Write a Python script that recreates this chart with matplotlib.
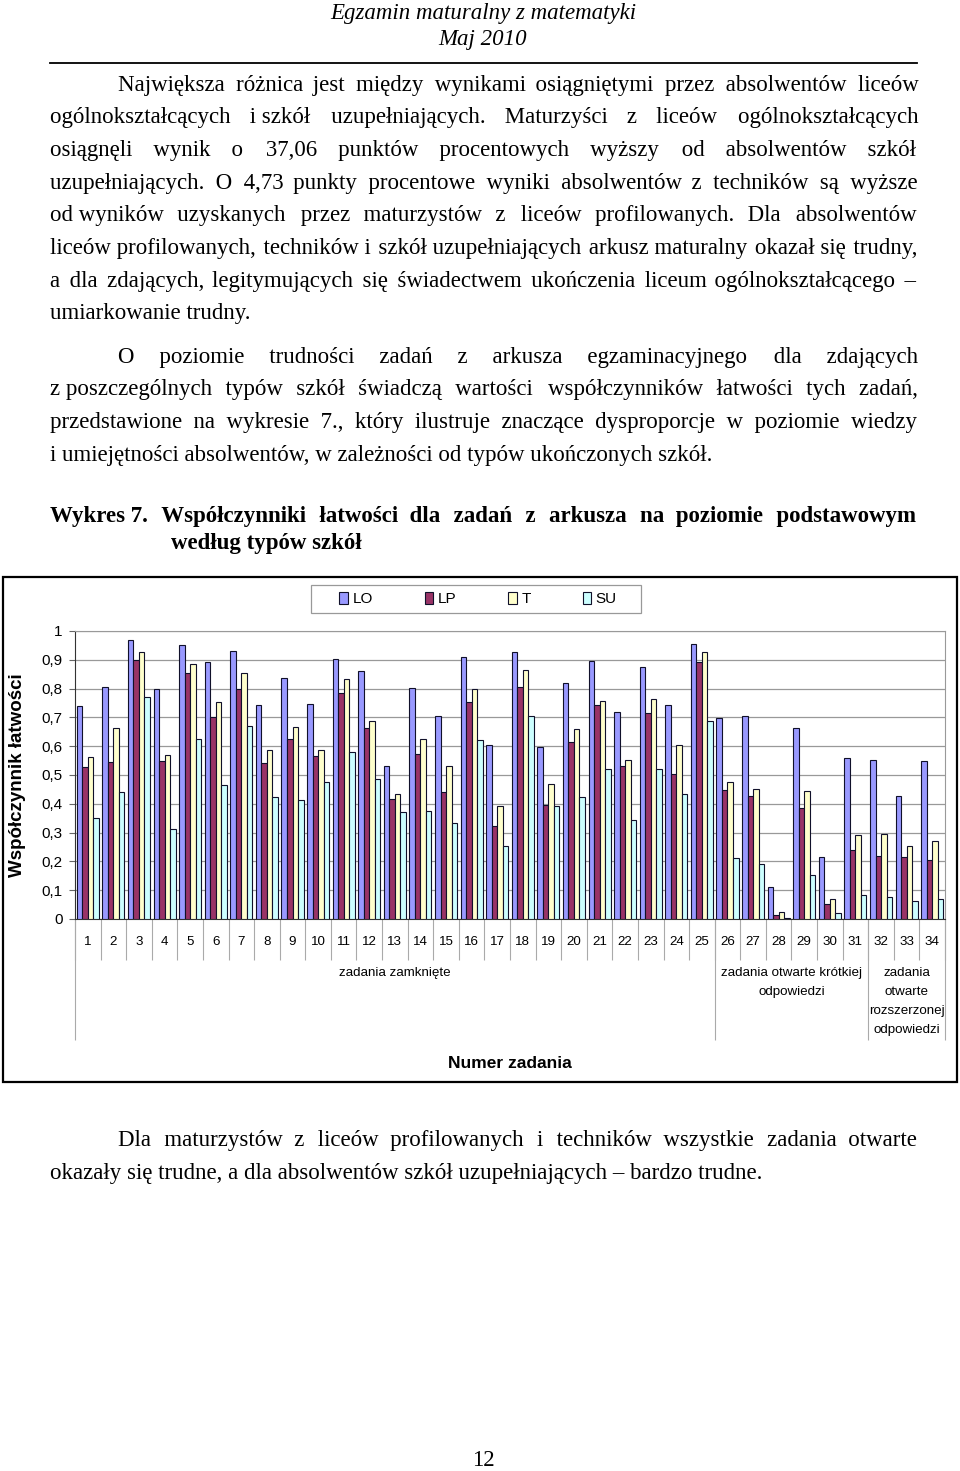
import numpy as np
import matplotlib.pyplot as plt
from matplotlib.patches import Rectangle
from matplotlib.lines import Line2D
from matplotlib.font_manager import FontProperties
from matplotlib.transforms import blended_transform_factory

W, H = 960, 1471

# --- chart data ---
tasks = [str(i) for i in range(1, 35)]
lo = [0.74, 0.807, 0.968, 0.799, 0.951, 0.891, 0.929, 0.743, 0.838, 0.747,
      0.904, 0.861, 0.531, 0.802, 0.705, 0.909, 0.603, 0.928, 0.598, 0.819,
      0.896, 0.718, 0.874, 0.743, 0.955, 0.697, 0.705, 0.11, 0.663, 0.215,
      0.558, 0.553, 0.427, 0.549]
lp = [0.528, 0.545, 0.899, 0.55, 0.854, 0.701, 0.799, 0.54, 0.626, 0.566,
      0.786, 0.664, 0.418, 0.574, 0.442, 0.752, 0.322, 0.807, 0.397, 0.616,
      0.743, 0.531, 0.714, 0.502, 0.891, 0.448, 0.427, 0.014, 0.384, 0.051,
      0.238, 0.22, 0.215, 0.204]
t = [0.563, 0.664, 0.926, 0.571, 0.884, 0.753, 0.854, 0.588, 0.668, 0.587,
     0.832, 0.689, 0.435, 0.626, 0.531, 0.799, 0.392, 0.866, 0.469, 0.66,
     0.756, 0.553, 0.765, 0.603, 0.928, 0.477, 0.451, 0.025, 0.443, 0.068,
     0.292, 0.296, 0.253, 0.271]
su = [0.35, 0.44, 0.77, 0.314, 0.626, 0.466, 0.669, 0.422, 0.413, 0.477,
      0.579, 0.485, 0.372, 0.376, 0.334, 0.62, 0.253, 0.705, 0.392, 0.422,
      0.52, 0.343, 0.52, 0.435, 0.689, 0.211, 0.19, 0.005, 0.152, 0.021,
      0.084, 0.076, 0.064, 0.068]
series_names = ['LO', 'LP', 'T', 'SU']
colors = ['#9999FF', '#993366', '#FFFFCC', '#CCFFFF']
ytick_vals = [0, 0.1, 0.2, 0.3, 0.4, 0.5, 0.6, 0.7, 0.8, 0.9, 1]
ytick_labels = ['0', '0,1', '0,2', '0,3', '0,4', '0,5', '0,6', '0,7', '0,8', '0,9', '1']
group_sizes = [25, 6, 3]
group_names = ['zadania zamknięte',
               'zadania otwarte krótkiej\nodpowiedzi',
               'zadania\notwarte\nrozszerzonej\nodpowiedzi']

# --- page text ---
header = ['Egzamin maturalny z matematyki', 'Maj 2010']
para1 = [
    'Największa różnica jest między wynikami osiągniętymi przez absolwentów liceów',
    'ogólnokształcących i\u00a0szkół uzupełniających. Maturzyści z liceów ogólnokształcących',
    'osiągnęli wynik o 37,06 punktów procentowych wyższy od absolwentów szkół',
    'uzupełniających. O 4,73 punkty procentowe wyniki absolwentów z techników są wyższe',
    'od\u00a0wyników uzyskanych przez maturzystów z liceów profilowanych. Dla absolwentów',
    'liceów profilowanych, techników i szkół uzupełniających arkusz maturalny okazał się trudny,',
    'a dla zdających, legitymujących się świadectwem ukończenia liceum ogólnokształcącego –',
    'umiarkowanie trudny.',
]
para2 = [
    'O poziomie trudności zadań z arkusza egzaminacyjnego dla zdających',
    'z\u00a0poszczególnych typów szkół świadczą wartości współczynników łatwości tych zadań,',
    'przedstawione na wykresie 7., który ilustruje znaczące dysproporcje w poziomie wiedzy',
    'i\u00a0umiejętności absolwentów, w zależności od typów ukończonych szkół.',
]
caption = ['Wykres\u00a07. Współczynniki łatwości dla zadań z arkusza na poziomie podstawowym',
           'według typów szkół']
para3 = [
    'Dla maturzystów z liceów profilowanych i techników wszystkie zadania otwarte',
    'okazały się trudne, a dla absolwentów szkół uzupełniających – bardzo trudne.',
]

fig = plt.figure(figsize=(W / 100, H / 100), dpi=100)
renderer = fig.canvas.get_renderer()
serif = ['Liberation Serif', 'DejaVu Serif', 'DejaVu Sans']
body_fs = 16.5
HAIR = '\u200a'


def text_w(s, fp):
    return renderer.get_text_width_height_descent(s, fp, ismath=False)[0]


def justify(words, width, fp):
    # one text per line; the gaps are made of normal and hair spaces
    ws = text_w('a a', fp) - text_w('aa', fp)
    wh = text_w('a' + HAIR + 'a', fp) - text_w('aa', fp)
    total = width - sum(text_w(w, fp) for w in words)
    s = ' '.join(words)
    for _ in range(4):
        per = total / (len(words) - 1)
        s, acc, goal = words[0], 0.0, 0.0
        for w in words[1:]:
            goal += per
            need = goal - acc
            kn = max(0, int(need // ws))
            kh = max(0, int(round((need - kn * ws) / wh)))
            acc += kn * ws + kh * wh
            s += ' ' * kn + HAIR * kh + w
        total += width - text_w(s, fp)
    return s


def put_line(line, y, x0=50, x1=917, just=True, weight='normal'):
    fp = FontProperties(family=serif, size=body_fs, weight=weight)
    words = line.split(' ')
    s = justify(words, x1 - x0, fp) if just and len(words) > 1 else line
    fig.text(x0 / W, 1 - y / H, s, va='baseline', ha='left', fontproperties=fp)


def put_par(lines, y0, step=32.7, indent=118):
    for i, line in enumerate(lines):
        last = i == len(lines) - 1
        put_line(line, y0 + i * step, x0=indent if i == 0 else 50, just=not last)


# header
for txt, yb in zip(header, [19, 45]):
    fig.text(483 / W, 1 - yb / H, txt, ha='center', va='baseline',
             family=serif, style='italic', fontsize=body_fs)
fig.add_artist(Line2D([50 / W, 917 / W], [1 - 63 / H] * 2, color='black', lw=1.3))

put_par(para1, 90.5)
put_par(para2, 362.5)
put_line(caption[0], 522, weight='bold')
put_line(caption[1], 549, x0=171, just=False, weight='bold')
put_par(para3, 1146)
fig.text(483 / W, 1 - 1466 / H, '12', ha='center', va='baseline',
         family=serif, fontsize=body_fs)

# chart frame and legend box
fig.add_artist(Rectangle((3 / W, 1 - 1082 / H), 954 / W, 505 / H,
                         transform=fig.transFigure, fill=False, ec='black', lw=1.6))
fig.add_artist(Rectangle((311 / W, 1 - 613 / H), 330 / W, 28 / H,
                         transform=fig.transFigure, fill=False, ec='#999999', lw=0.9))

# chart
ax = fig.add_axes([75 / W, 1 - 919 / H, 870 / W, 288 / H])
x = np.arange(len(tasks))
bw = 0.215
for k, (vals, name, c) in enumerate(zip([lo, lp, t, su], series_names, colors)):
    ax.bar(x + (k - 1.5) * bw, vals, bw, color=c, edgecolor='#10102a',
           linewidth=0.8, label=name, zorder=3)

ax.set_xlim(-0.5, len(tasks) - 0.5)
ax.set_ylim(0, 1)
ax.set_yticks(ytick_vals, ytick_labels, family='Liberation Sans', fontsize=11)
ax.yaxis.grid(True, color='#999999', lw=0.9, zorder=0)
ax.tick_params(axis='y', length=4, color='#666666', pad=5)
ax.set_xticks(x, tasks, family='Liberation Sans', fontsize=9.6)
ax.tick_params(axis='x', which='major', length=0, pad=12.5)
ax.set_xticks(np.arange(-0.5, len(tasks), 1), minor=True)
ax.tick_params(axis='x', which='minor', length=29.5, color='#aaaaaa', width=0.8)
for s in ['top', 'right']:
    ax.spines[s].set_color('#999999')
ax.spines['left'].set_color('#333333')
ax.spines['bottom'].set_color('#333333')

tr = blended_transform_factory(ax.transData, ax.transAxes)
edges = np.concatenate([[0], np.cumsum(group_sizes)]) - 0.5
ax.vlines(edges, -0.42, 0, transform=tr, color='#aaaaaa', lw=0.8, clip_on=False)
for a, b, name in zip(edges[:-1], edges[1:], group_names):
    ax.text((a + b) / 2, -0.166, name, transform=tr, ha='center', va='top',
            family='Liberation Sans', fontsize=9.6, linespacing=1.8)

ax.set_ylabel('Współczynnik łatwości', family='Liberation Sans', fontweight='bold',
              fontsize=13.5, va='center')
ax.yaxis.set_label_coords((18 - 75) / 870, 0.5)
ax.set_xlabel('Numer zadania', family='Liberation Sans', fontweight='bold',
              fontsize=12.5, va='center')
ax.xaxis.set_label_coords(0.5, (919 - 1063) / 288)

fig.legend(loc='center', bbox_to_anchor=(478 / W, 1 - 599 / H), ncol=4,
           frameon=False, prop={'family': 'Liberation Sans', 'size': 11},
           handlelength=0.55, handleheight=0.8, handletextpad=0.3,
           columnspacing=3.4)

fig.savefig('out.png', dpi=100, facecolor='white')
